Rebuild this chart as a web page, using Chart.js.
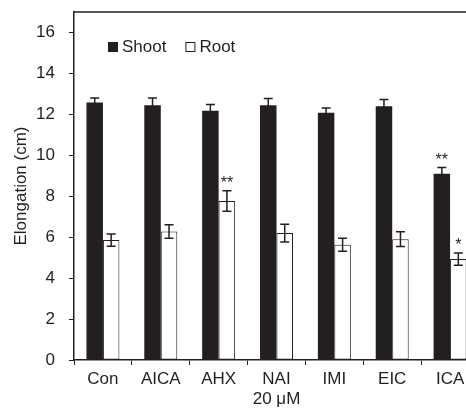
<!DOCTYPE html>
<html>
<head>
<meta charset="utf-8">
<script src="https://cdn.jsdelivr.net/npm/chart.js@4/dist/chart.umd.min.js"></script>
<style>
  html, body { margin: 0; padding: 0; background: #fff; overflow: hidden; }
  #wrap { position: relative; width: 480px; height: 408px; }
</style>
</head>
<body>
<div id="wrap"><canvas id="c"></canvas></div>
<script>
const categories = ['Con', 'AICA', 'AHX', 'NAI', 'IMI', 'EIC', 'ICA'];
const shootValues = [12.58, 12.45, 12.18, 12.45, 12.08, 12.4, 9.1];
const shootErrors = [0.22, 0.35, 0.3, 0.33, 0.23, 0.32, 0.3];
const rootValues = [5.86, 6.28, 7.77, 6.2, 5.63, 5.9, 4.93];
const rootErrors = [0.3, 0.33, 0.5, 0.43, 0.32, 0.36, 0.3];
const shootSig = ['', '', '', '', '', '', '**'];
const rootSig = ['', '', '**', '', '', '', '*'];
const yTickValues = [0, 2, 4, 6, 8, 10, 12, 14, 16];
const yTitle = 'Elongation (cm)';
const xTitle = '20 \u03bcM';

const INK = '#231f20';
const FONT = "'Liberation Sans', Arial, Helvetica, sans-serif";

const errorBarPlugin = {
  id: 'errorBars',
  afterDatasetsDraw(chart) {
    const ctx = chart.ctx;
    const yScale = chart.scales.y;
    chart.data.datasets.forEach((ds, di) => {
      const meta = chart.getDatasetMeta(di);
      meta.data.forEach((bar, i) => {
        const v = ds.data[i];
        const e = ds.errors[i];
        const x = bar.x;
        const yHi = yScale.getPixelForValue(v + e);
        const yLo = yScale.getPixelForValue(v - e);
        const cap = 4.5;
        ctx.save();
        ctx.strokeStyle = INK;
        ctx.lineWidth = 1.5;
        ctx.beginPath();
        ctx.moveTo(x, yLo); ctx.lineTo(x, yHi);
        ctx.moveTo(x - cap, yHi); ctx.lineTo(x + cap, yHi);
        ctx.moveTo(x - cap, yLo); ctx.lineTo(x + cap, yLo);
        ctx.stroke();
        const s = ds.sig[i];
        if (s) {
          ctx.fillStyle = INK;
          ctx.font = '16px ' + FONT;
          ctx.textAlign = 'center';
          ctx.textBaseline = 'alphabetic';
          ctx.fillText(s, x, yHi - 2.5);
        }
        ctx.restore();
      });
    });
  }
};

const frameAndLegendPlugin = {
  id: 'frameLegend',
  afterDraw(chart) {
    const { ctx, chartArea } = chart;
    ctx.save();
    ctx.strokeStyle = INK;
    ctx.lineWidth = 1.5;
    ctx.beginPath();
    ctx.moveTo(chartArea.left, chartArea.top);
    ctx.lineTo(chart.width, chartArea.top);
    ctx.stroke();

    // legend inside the plot area, top-left
    ctx.font = '17px ' + FONT;
    ctx.textBaseline = 'middle';
    ctx.textAlign = 'left';
    let x = chartArea.left + 34;
    const yMid = chartArea.top + 35;
    const box = 10;
    chart.data.datasets.forEach((ds) => {
      ctx.fillStyle = ds.backgroundColor;
      ctx.fillRect(x, yMid - box / 2, box, box);
      ctx.strokeStyle = INK;
      ctx.lineWidth = 1;
      ctx.strokeRect(x + 0.5, yMid - box / 2 + 0.5, box - 1, box - 1);
      x += box + 4;
      ctx.fillStyle = INK;
      ctx.fillText(ds.label, x, yMid);
      x += ctx.measureText(ds.label).width + 19;
    });
    ctx.restore();
  }
};

new Chart(document.getElementById('c'), {
  type: 'bar',
  data: {
    labels: categories,
    datasets: [
      {
        label: 'Shoot',
        data: shootValues,
        errors: shootErrors,
        sig: shootSig,
        backgroundColor: INK,
        borderColor: INK,
        borderWidth: 0
      },
      {
        label: 'Root',
        data: rootValues,
        errors: rootErrors,
        sig: rootSig,
        backgroundColor: '#ffffff',
        borderColor: INK,
        borderWidth: 1,
        borderSkipped: false
      }
    ]
  },
  options: {
    responsive: true,
    maintainAspectRatio: false,
    animation: false,
    devicePixelRatio: 1,
    categoryPercentage: 0.57,
    barPercentage: 1.0,
    layout: { padding: { top: 12, right: 1, bottom: 0, left: 0 } },
    plugins: {
      tooltip: { enabled: false },
      legend: { display: false }
    },
    scales: {
      x: {
        grid: { display: true, drawOnChartArea: false, drawTicks: true, tickLength: 5, color: INK, offset: true },
        border: { display: true, color: INK, width: 1.5 },
        ticks: { color: INK, padding: 4, font: { family: FONT, size: 17 } },
        title: { display: true, text: xTitle, color: INK, font: { family: FONT, size: 17, lineHeight: 1 }, padding: 0 },
        afterFit(scale) { scale.height = 48; scale.paddingLeft = 0; scale.paddingRight = 0; }
      },
      y: {
        min: 0,
        max: 17,
        grid: { display: true, drawOnChartArea: false, drawTicks: true, tickLength: 5, color: INK },
        border: { display: true, color: INK, width: 1.5 },
        ticks: { color: INK, padding: 14, includeBounds: false, font: { family: FONT, size: 17 } },
        afterBuildTicks(scale) { scale.ticks = yTickValues.map(v => ({ value: v })); },
        title: { display: true, text: yTitle, color: INK, font: { family: FONT, size: 17 }, padding: { top: 11, bottom: 0 } },
        afterFit(scale) { scale.width = 74; scale.paddingTop = 0; scale.paddingBottom = 0; }
      }
    }
  },
  plugins: [errorBarPlugin, frameAndLegendPlugin]
});
</script>
</body>
</html>
